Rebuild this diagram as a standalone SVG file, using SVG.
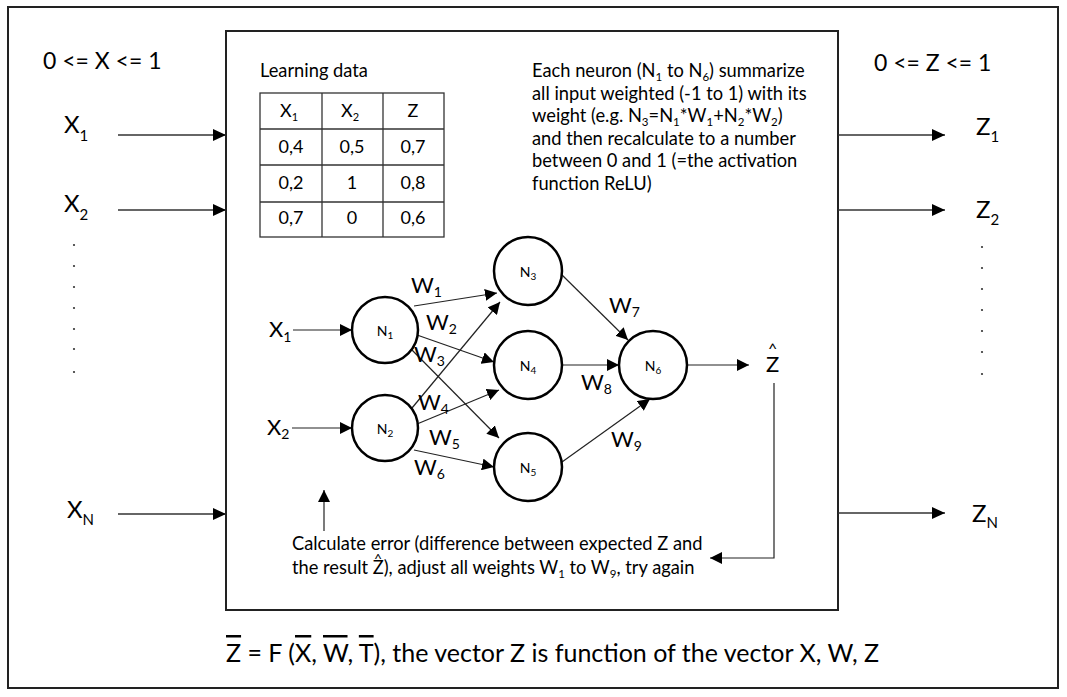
<svg xmlns="http://www.w3.org/2000/svg" width="1067" height="697" viewBox="0 0 1067 697">
<style>
text{font-family:Lato,"Liberation Sans",sans-serif;fill:#000}
.frame{fill:none;stroke:#222;stroke-width:2}
.node{fill:#fff;stroke:#000;stroke-width:2.5}
.conn{stroke:#222;stroke-width:1.2;fill:none}
.io{stroke:#333;stroke-width:1.4;fill:none}
.tbl{stroke:#333;stroke-width:1.3;fill:none}
.big{font-size:24px}
.lbl{font-size:23px}
.w{font-size:22px}
.n{font-size:14px}
.p{font-size:18.3px}
.dot{fill:#333}
</style>
<defs>
<marker id="arr" viewBox="0 0 12 12" refX="12" refY="6" markerWidth="12" markerHeight="12" markerUnits="userSpaceOnUse" orient="auto"><path d="M0,0 L12,6 L0,12 z" fill="#000"/></marker>
<marker id="arrL" viewBox="0 0 13 12" refX="13" refY="6" markerWidth="13" markerHeight="12" markerUnits="userSpaceOnUse" orient="auto"><path d="M0,0 L13,6 L0,12 z" fill="#000"/></marker>
</defs>
<rect id="outer" class="frame" x="8" y="7" width="1050" height="681"/>
<rect id="box" class="frame" x="226" y="31" width="612" height="579" fill="#fff"/>

<g id="inputs">
<text class="lbl" x="43" y="69">0 &lt;= X &lt;= 1</text>
<text class="big" x="64" y="133">X<tspan font-size="15" dy="8">1</tspan></text>
<text class="big" x="64" y="212">X<tspan font-size="15" dy="8">2</tspan></text>
<text class="big" x="67" y="518">X<tspan font-size="15" dy="7">N</tspan></text>
<circle class="dot" cx="74" cy="245" r="1.1"/><circle class="dot" cx="74" cy="266" r="1.1"/><circle class="dot" cx="74" cy="287" r="1.1"/><circle class="dot" cx="74" cy="308" r="1.1"/><circle class="dot" cx="74" cy="329" r="1.1"/><circle class="dot" cx="74" cy="349" r="1.1"/><circle class="dot" cx="74" cy="372" r="1.1"/>
</g>
<g id="outputs">
<text class="lbl" x="874" y="71">0 &lt;= Z &lt;= 1</text>
<text class="big" x="976" y="135">Z<tspan font-size="15" dy="7">1</tspan></text>
<text class="big" x="976" y="218">Z<tspan font-size="15" dy="7">2</tspan></text>
<text class="big" x="972" y="522">Z<tspan font-size="15" dy="6">N</tspan></text>
<circle class="dot" cx="982" cy="247" r="1.1"/><circle class="dot" cx="982" cy="268" r="1.1"/><circle class="dot" cx="982" cy="289" r="1.1"/><circle class="dot" cx="982" cy="310" r="1.1"/><circle class="dot" cx="982" cy="331" r="1.1"/><circle class="dot" cx="982" cy="352" r="1.1"/><circle class="dot" cx="982" cy="374" r="1.1"/>
</g>

<g id="learning-data">
<text class="p" x="260" y="77">Learning data</text>
<rect class="tbl" x="260" y="93" width="184" height="144"/>
<line class="tbl" x1="322" y1="93" x2="322" y2="237"/>
<line class="tbl" x1="383" y1="93" x2="383" y2="237"/>
<line class="tbl" x1="260" y1="129" x2="444" y2="129"/>
<line class="tbl" x1="260" y1="165" x2="444" y2="165"/>
<line class="tbl" x1="260" y1="202" x2="444" y2="202"/>
<g text-anchor="middle" font-size="18">
<text x="289" y="117">X<tspan font-size="11" dy="4">1</tspan></text>
<text x="350" y="117">X<tspan font-size="11" dy="4">2</tspan></text>
<text x="413" y="117">Z</text>
<text x="291" y="153">0,4</text><text x="352" y="153">0,5</text><text x="413" y="153">0,7</text>
<text x="291" y="189">0,2</text><text x="352" y="189">1</text><text x="413" y="189">0,8</text>
<text x="291" y="224">0,7</text><text x="352" y="224">0</text><text x="413" y="224">0,6</text>
</g>
</g>

<g id="description">
<text class="p" x="532" y="77">Each neuron (N<tspan font-size="11.5" dy="4">1</tspan><tspan dy="-4"> to N</tspan><tspan font-size="11.5" dy="4">6</tspan><tspan dy="-4">) summarize</tspan></text>
<text class="p" x="532" y="100">all input weighted (-1 to 1) with its</text>
<text class="p" x="532" y="122">weight (e.g. N<tspan font-size="11.5" dy="4">3</tspan><tspan dy="-4">=N</tspan><tspan font-size="11.5" dy="4">1</tspan><tspan dy="-4">*W</tspan><tspan font-size="11.5" dy="4">1</tspan><tspan dy="-4">+N</tspan><tspan font-size="11.5" dy="4">2</tspan><tspan dy="-4">*W</tspan><tspan font-size="11.5" dy="4">2</tspan><tspan dy="-4">)</tspan></text>
<text class="p" x="532" y="145">and then recalculate to a number</text>
<text class="p" x="532" y="167">between 0 and 1 (=the activation</text>
<text class="p" x="532" y="190">function ReLU)</text>
</g>

<g id="connectors">
<line class="io" x1="118" y1="135" x2="226" y2="135" marker-end="url(#arrL)"/>
<line class="io" x1="118" y1="210" x2="226" y2="210" marker-end="url(#arrL)"/>
<line class="io" x1="118" y1="514" x2="226" y2="514" marker-end="url(#arrL)"/>
<line class="io" x1="838" y1="135" x2="945" y2="135" marker-end="url(#arrL)"/>
<line class="io" x1="838" y1="210" x2="945" y2="210" marker-end="url(#arrL)"/>
<line class="io" x1="838" y1="513" x2="945" y2="513" marker-end="url(#arrL)"/>
<line class="conn" x1="293" y1="330" x2="352" y2="330" marker-end="url(#arr)"/>
<line class="conn" x1="292" y1="428" x2="352" y2="428" marker-end="url(#arr)"/>
<line class="conn" x1="414" y1="306" x2="497" y2="293" marker-end="url(#arr)"/>
<line class="conn" x1="417" y1="335" x2="494" y2="362" marker-end="url(#arr)"/>
<line class="conn" x1="412" y1="350" x2="499" y2="438" marker-end="url(#arr)"/>
<line class="conn" x1="412" y1="408" x2="500" y2="302" marker-end="url(#arr)"/>
<line class="conn" x1="417" y1="424" x2="499" y2="390" marker-end="url(#arr)"/>
<line class="conn" x1="414" y1="450" x2="494" y2="467" marker-end="url(#arr)"/>
<line class="conn" x1="560" y1="273" x2="628" y2="340" marker-end="url(#arr)"/>
<line class="conn" x1="562" y1="365" x2="619" y2="365" marker-end="url(#arr)"/>
<line class="conn" x1="562" y1="462" x2="650" y2="399" marker-end="url(#arr)"/>
<line class="conn" x1="687" y1="365" x2="749" y2="365" marker-end="url(#arr)"/>
<polyline class="conn" points="774,383 774,558 710,558" marker-end="url(#arr)"/>
<line class="conn" x1="324" y1="531" x2="324" y2="490" marker-end="url(#arr)"/>
</g>

<g id="n1"><circle class="node" cx="385" cy="330" r="33"/><text class="n" x="385" y="336" text-anchor="middle">N<tspan font-size="10" dy="3">1</tspan></text></g>
<g id="n2"><circle class="node" cx="385" cy="428" r="33"/><text class="n" x="385" y="434" text-anchor="middle">N<tspan font-size="10" dy="3">2</tspan></text></g>
<g id="n3"><circle class="node" cx="528" cy="271" r="34"/><text class="n" x="528" y="277" text-anchor="middle">N<tspan font-size="10" dy="3">3</tspan></text></g>
<g id="n4"><circle class="node" cx="528" cy="365" r="34"/><text class="n" x="528" y="371" text-anchor="middle">N<tspan font-size="10" dy="3">4</tspan></text></g>
<g id="n5"><circle class="node" cx="528" cy="467" r="34"/><text class="n" x="528" y="473" text-anchor="middle">N<tspan font-size="10" dy="3">5</tspan></text></g>
<g id="n6"><circle class="node" cx="653" cy="365" r="34"/><text class="n" x="653" y="371" text-anchor="middle">N<tspan font-size="10" dy="3">6</tspan></text></g>

<g id="labels">
<text class="w" x="269" y="337">X<tspan font-size="14" dy="5">1</tspan></text>
<text class="w" x="267" y="435">X<tspan font-size="14" dy="4">2</tspan></text>
<text class="w" x="411" y="293">W<tspan font-size="14" dy="4">1</tspan></text>
<text class="w" x="426" y="330">W<tspan font-size="14" dy="4">2</tspan></text>
<text class="w" x="414" y="362">W<tspan font-size="14" dy="4">3</tspan></text>
<text class="w" x="418" y="410">W<tspan font-size="14" dy="4">4</tspan></text>
<text class="w" x="429" y="445">W<tspan font-size="14" dy="4">5</tspan></text>
<text class="w" x="414" y="475">W<tspan font-size="14" dy="4">6</tspan></text>
<text class="w" x="609" y="313">W<tspan font-size="14" dy="4">7</tspan></text>
<text class="w" x="581" y="390">W<tspan font-size="14" dy="4">8</tspan></text>
<text class="w" x="611" y="447">W<tspan font-size="14" dy="4">9</tspan></text>
<text class="w" x="766" y="372">Z<tspan font-size="16" dx="-11.3" dy="-18">^</tspan></text>
</g>

<g id="feedback">
<text class="p" x="292" y="550">Calculate error (difference between expected Z and</text>
<text class="p" x="292" y="574">the result Z<tspan font-size="14" dx="-9.6" dy="-10">^</tspan><tspan dx="1.5" dy="10">), adjust all weights W</tspan><tspan font-size="11.5" dy="4">1</tspan><tspan dy="-4"> to W</tspan><tspan font-size="11.5" dy="4">9</tspan><tspan dy="-4">, try again</tspan></text>
</g>

<g id="formula">
<text x="226" y="662" font-size="25"><tspan text-decoration="overline">Z</tspan> = F (<tspan text-decoration="overline">X</tspan>, <tspan text-decoration="overline">W</tspan>, <tspan text-decoration="overline">T</tspan>), the vector Z is function of the vector X, W, Z</text>
</g>
</svg>
